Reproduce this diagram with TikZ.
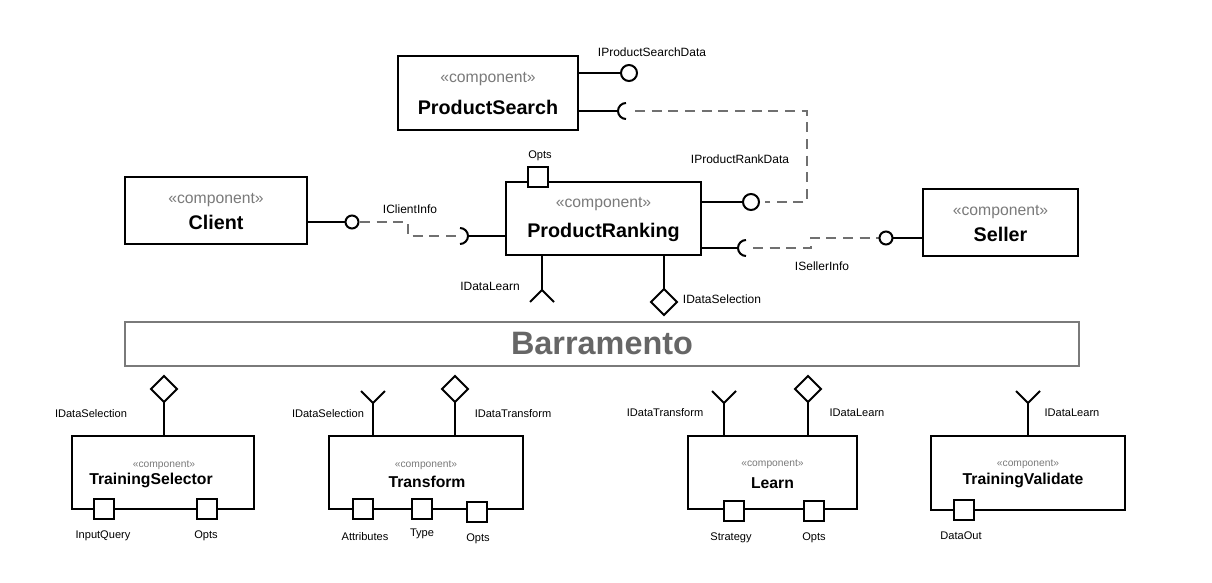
\documentclass[tikz,border=0pt]{standalone}
\usepackage{fontspec}
\setmainfont{Liberation Sans}
\usetikzlibrary{calc}
\definecolor{stereogray}{HTML}{7A7A7A}
\definecolor{busgray}{HTML}{666666}
\definecolor{linkgray}{HTML}{707070}
\tikzset{
  comp/.style={draw, line width=1.5pt, fill=white, inner sep=0pt},
  port/.style={draw, line width=1.5pt, fill=white, minimum size=15.5pt, inner sep=0pt},
  stereo/.style={text=stereogray, font=\fontsize{11.8}{13}\selectfont, inner sep=0pt},
  cname/.style={font=\bfseries\fontsize{14.8}{16}\selectfont, inner sep=0pt},
  sstereo/.style={text=stereogray, font=\fontsize{7.7}{9}\selectfont, inner sep=0pt},
  sname/.style={font=\bfseries\fontsize{11.8}{13}\selectfont, inner sep=0pt},
  lbl/.style={font=\fontsize{9}{10}\selectfont, inner sep=0pt},
  slbl/.style={font=\fontsize{8.3}{10}\selectfont, inner sep=0pt},
  wire/.style={line width=1.5pt},
  link/.style={line width=1.5pt, draw=linkgray, dash pattern=on 7.5pt off 5pt},
}
\def\socket(#1)(#2:#3){\draw[wire] ($(#1)+(#2:8)$) arc (#2:#3:8);}
\def\provided(#1){\draw[wire, fill=white] ($(#1)+(0,-13)$) -- ++(13,13) -- ++(-13,13) -- ++(-13,-13) -- cycle;}
\def\required(#1)(#2){\draw[wire] ($(#1)+(-12,#2)$) -- (#1) -- ++(12,#2);}

\begin{document}
\begin{tikzpicture}[x=0.75pt,y=-0.75pt]
		%%%%% START %%%%%
		\useasboundingbox (0,0) rectangle (1212,582);
		
		% ProductSearch
		\node[comp, minimum width=135pt, minimum height=55.5pt] (ps) at (488,93) {};
		\node[stereo] (psSt) at (488,79) {«component»};
		\node[cname] (psNm) at (488,107) {ProductSearch};
		\coordinate (psdBall) at (629,73);
		\draw[wire] (ps.east |- psdBall) -- ($(psdBall)+(-8,0)$);
		\draw[wire, fill=white] (psdBall) circle (8);
		\node[lbl] (psdLbl) at (652,52) {IProductSearchData};
		\coordinate (prdCup) at (626,111);
		\draw[wire] (ps.east |- prdCup) -- ($(prdCup)+(-8,0)$);
		\socket(prdCup)(270:90)
		
		% ProductRanking
		\node[comp, minimum width=146.25pt, minimum height=54.75pt] (pr) at (603.5,218.5) {};
		\node[stereo] (prSt) at (603.5,204) {«component»};
		\node[cname] (prNm) at (603.5,232) {ProductRanking};
		\node[port] (prOpts) at (538,177) {};
		\node[slbl] (prOptsLbl) at (540,156) {Opts};
		\coordinate (prdBall) at (751,202);
		\draw[wire] (pr.east |- prdBall) -- ($(prdBall)+(-8,0)$);
		\draw[wire, fill=white] (prdBall) circle (8);
		\node[lbl] (prdLbl) at (740,159) {IProductRankData};
		\draw[link] ($(prdCup)+(9,0)$) -| ($(prdBall)+(56,0)$) -- ($(prdBall)+(14,0)$);
		
		% Client
		\node[comp, minimum width=136.5pt, minimum height=50.25pt] (cl) at (216,210.5) {};
		\node[stereo] (clSt) at (216,200) {«component»};
		\node[cname] (clNm) at (216,222) {Client};
		\coordinate (ciBall) at (352,222);
		\coordinate (ciCup) at (460,236);
		\draw[wire] (cl.east |- ciBall) -- ($(ciBall)+(-6.5,0)$);
		\draw[wire, fill=white] (ciBall) circle (6.5);
		\draw[link] ($(ciBall)+(8,0)$) -| ($(ciCup)+(-52,0)$) -- ($(ciCup)+(-2,0)$);
		\socket(ciCup)(-90:90)
		\draw[wire] ($(ciCup)+(8,0)$) -- (pr.west |- ciCup);
		\node[lbl] (ciLbl) at (410,209) {IClientInfo};
		
		% Seller
		\node[comp, minimum width=116.25pt, minimum height=50.25pt] (se) at (1000.5,222.5) {};
		\node[stereo] (seSt) at (1000.5,212) {«component»};
		\node[cname] (seNm) at (1000.5,234) {Seller};
		\coordinate (sliCup) at (746,248);
		\coordinate (sliBall) at (886,238);
		\draw[wire] (pr.east |- sliCup) -- ($(sliCup)+(-8,0)$);
		\socket(sliCup)(270:90)
		\draw[link] ($(sliCup)+(7,0)$) -- ++(58,0) |- ($(sliBall)+(-7,0)$);
		\draw[wire, fill=white] (sliBall) circle (6.5);
		\draw[wire] ($(sliBall)+(6.5,0)$) -- (se.west |- sliBall);
		\node[lbl] (sliLbl) at (822,266) {ISellerInfo};
		
		% ProductRanking -> bus
		\coordinate (prLearn) at (542,290);
		\draw[wire] (pr.south -| prLearn) -- (prLearn);
		\required(prLearn)(12)
		\node[lbl] (prLearnLbl) at (490,286) {IDataLearn};
		\coordinate (prSel) at (664,302);
		\draw[wire] (pr.south -| prSel) -- ($(prSel)+(0,-13)$);
		\provided(prSel)
		\node[lbl] (prSelLbl) at (722,299) {IDataSelection};
		
		% Barramento
		\node[draw=stereogray, line width=1.5pt, minimum width=715.5pt, minimum height=33pt, text=busgray,
		      font=\bfseries\fontsize{24.3}{26}\selectfont] (bus) at (602,344) {Barramento};
		
		% TrainingSelector
		\node[comp, minimum width=136.5pt, minimum height=54.75pt] (tsel) at (163,472.5) {};
		\node[sstereo] (tselSt) at (164,465) {«component»};
		\node[sname] (tselNm) at (151,480) {TrainingSelector};
		\coordinate (tselSel) at (164,389);
		\draw[wire] (tsel.north -| tselSel) -- ($(tselSel)+(0,13)$);
		\provided(tselSel)
		\node[slbl] (tselSelLbl) at (91,414) {IDataSelection};
		\node[port] (tselIn) at (104,509) {};
		\node[port] (tselOpts) at (207,509) {};
		\node[slbl] (tselInLbl) at (103,536) {InputQuery};
		\node[slbl] (tselOptsLbl) at (206,536) {Opts};
		
		% Transform
		\node[comp, minimum width=145.5pt, minimum height=54.75pt] (tr) at (426,472.5) {};
		\node[sstereo] (trSt) at (426,465) {«component»};
		\node[sname] (trNm) at (427,482) {Transform};
		\coordinate (trSel) at (373,403);
		\draw[wire] (tr.north -| trSel) -- (trSel);
		\required(trSel)(-12)
		\node[slbl] (trSelLbl) at (328,414) {IDataSelection};
		\coordinate (trOut) at (455,389);
		\draw[wire] (tr.north -| trOut) -- ($(trOut)+(0,13)$);
		\provided(trOut)
		\node[slbl] (trOutLbl) at (513,414) {IDataTransform};
		\node[port] (trAttr) at (363,509) {};
		\node[port] (trType) at (422,509) {};
		\node[port] (trOpts) at (477,512) {};
		\node[slbl] (trAttrLbl) at (365,537) {Attributes};
		\node[slbl] (trTypeLbl) at (422,534) {Type};
		\node[slbl] (trOptsLbl) at (478,539) {Opts};
		
		% Learn
		\node[comp, minimum width=126.75pt, minimum height=54.75pt] (le) at (772.5,472.5) {};
		\node[sstereo] (leSt) at (772.5,464) {«component»};
		\node[sname] (leNm) at (772.5,483) {Learn};
		\coordinate (leIn) at (724,403);
		\draw[wire] (le.north -| leIn) -- (leIn);
		\required(leIn)(-12)
		\node[slbl] (leInLbl) at (665,413) {IDataTransform};
		\coordinate (leOut) at (808,389);
		\draw[wire] (le.north -| leOut) -- ($(leOut)+(0,13)$);
		\provided(leOut)
		\node[slbl] (leOutLbl) at (857,413) {IDataLearn};
		\node[port] (leStrat) at (734,511) {};
		\node[port] (leOpts) at (814,511) {};
		\node[slbl] (leStratLbl) at (731,538) {Strategy};
		\node[slbl] (leOptsLbl) at (814,538) {Opts};
		
		% TrainingValidate
		\node[comp, minimum width=145.5pt, minimum height=55.5pt] (tv) at (1028,473) {};
		\node[sstereo] (tvSt) at (1028,464) {«component»};
		\node[sname] (tvNm) at (1023,480) {TrainingValidate};
		\coordinate (tvIn) at (1028,403);
		\draw[wire] (tv.north -| tvIn) -- (tvIn);
		\required(tvIn)(-12)
		\node[slbl] (tvInLbl) at (1072,413) {IDataLearn};
		\node[port] (tvOut) at (964,510) {};
		\node[slbl] (tvOutLbl) at (961,536) {DataOut};
		%%%%% END %%%%%
	\end{tikzpicture}
\end{document}
